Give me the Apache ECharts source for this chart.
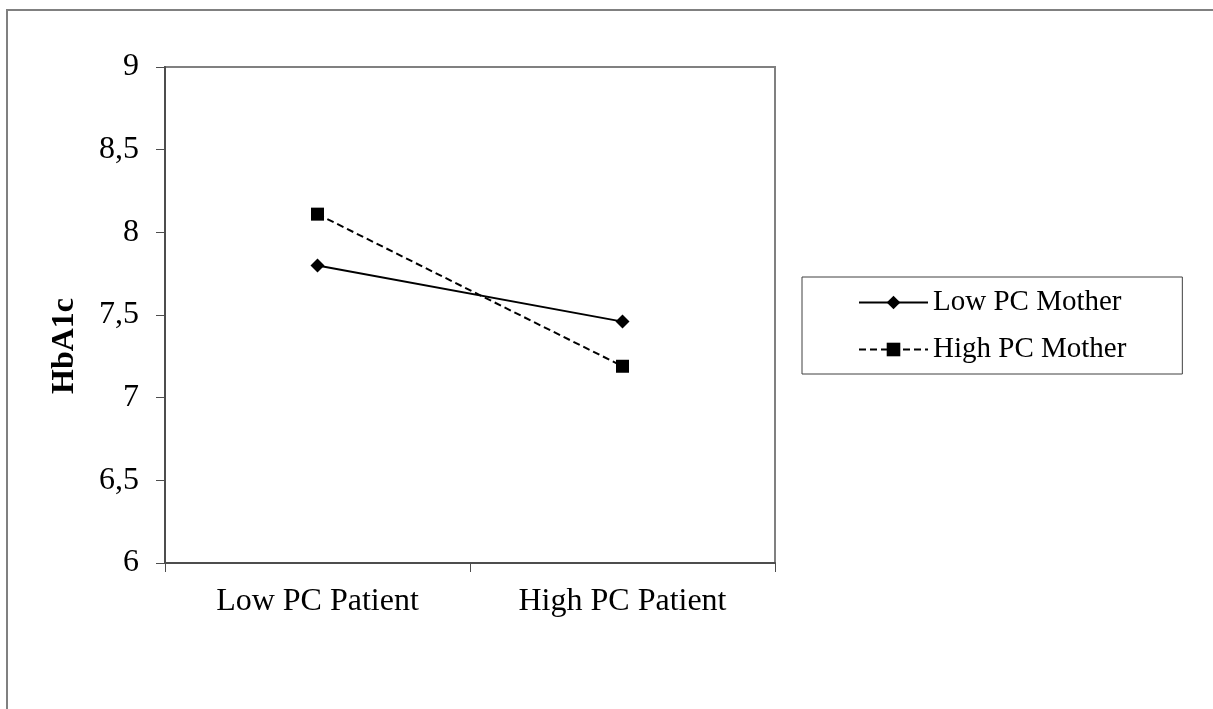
<!DOCTYPE html>
<html>
<head>
<meta charset="utf-8">
<script src="https://cdn.jsdelivr.net/npm/echarts@6/dist/echarts.min.js"></script>
<style>
html,body{margin:0;padding:0;background:#fff;}
#chart{width:1213px;height:709px;}
</style>
</head>
<body>
<div id="chart"></div>
<script>
const categories = ['Low PC Patient', 'High PC Patient'];
const lowPCMother = [7.80, 7.46];
const highPCMother = [8.11, 7.19];
const seriesNames = ['Low PC Mother', 'High PC Mother'];
const yTicks = { min: 6, max: 9, interval: 0.5 };
const yAxisName = 'HbA1c';

const serif = '"Liberation Serif", "Times New Roman", serif';
const chart = echarts.init(document.getElementById('chart'), null, { renderer: 'canvas' });

chart.setOption({
  animation: false,
  backgroundColor: '#ffffff',
  graphic: [{
    type: 'rect',
    shape: { x: 7, y: 10, width: 1400, height: 900 },
    style: { fill: 'none', stroke: '#808080', lineWidth: 2 },
    silent: true,
    z: -10
  }],
  grid: {
    left: 165, top: 67, width: 610, height: 496,
    show: true, borderColor: '#808080', borderWidth: 2, backgroundColor: 'transparent'
  },
  legend: {
    orient: 'vertical',
    left: 802, top: 277,
    padding: [11, 56, 10, 56],
    itemGap: 18,
    itemWidth: 69,
    itemHeight: 17,
    borderColor: '#404040',
    borderWidth: 1,
    textStyle: { fontFamily: serif, fontSize: 29, color: '#000', lineHeight: 29 },
    data: seriesNames
  },
  xAxis: {
    type: 'category',
    data: categories,
    boundaryGap: true,
    axisLine: { show: true, lineStyle: { color: '#4d4d4d', width: 2 } },
    axisTick: { show: true, length: 9, alignWithLabel: false, lineStyle: { color: '#4d4d4d', width: 1 } },
    axisLabel: { fontFamily: serif, fontSize: 32, color: '#000', margin: 23 },
    splitLine: { show: false }
  },
  yAxis: {
    type: 'value',
    min: yTicks.min, max: yTicks.max, interval: yTicks.interval,
    name: yAxisName,
    nameLocation: 'middle',
    nameRotate: 90,
    nameGap: 84,
    nameTextStyle: { fontFamily: serif, fontSize: 32, fontWeight: 'bold', color: '#000', padding: [0, 62, 0, 0] },
    axisLine: { show: true, lineStyle: { color: '#4d4d4d', width: 2 } },
    axisTick: { show: true, length: 9, lineStyle: { color: '#4d4d4d', width: 1 } },
    axisLabel: {
      fontFamily: serif, fontSize: 32, color: '#000', margin: 26, padding: [4, 0, 0, 0],
      formatter: v => String(v).replace('.', ',')
    },
    splitLine: { show: false }
  },
  series: [
    {
      name: seriesNames[0],
      type: 'line',
      data: lowPCMother,
      symbol: 'diamond',
      symbolSize: 14,
      lineStyle: { color: '#000', width: 2, type: 'solid' },
      itemStyle: { color: '#000' },
      z: 3
    },
    {
      name: seriesNames[1],
      type: 'line',
      data: highPCMother,
      symbol: 'rect',
      symbolSize: 13,
      lineStyle: { color: '#000', width: 2, type: [7, 4] },
      itemStyle: { color: '#000' },
      z: 2
    }
  ]
});
</script>
</body>
</html>
